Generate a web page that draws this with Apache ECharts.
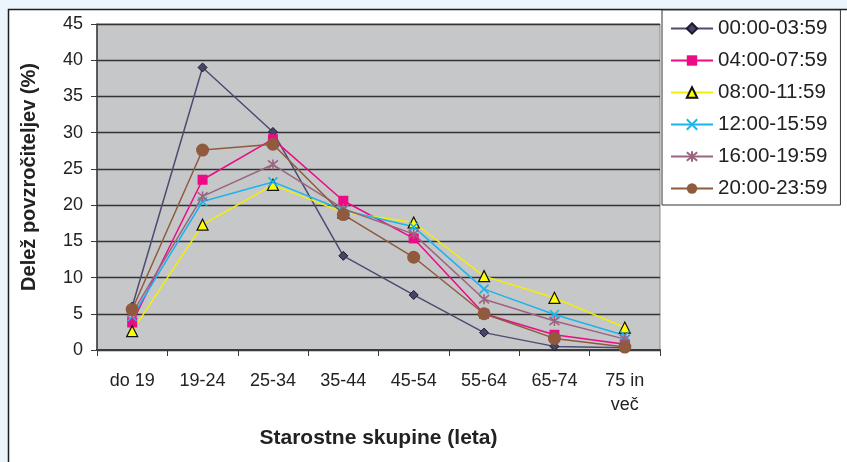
<!DOCTYPE html>
<html>
<head>
<meta charset="utf-8">
<script src="https://cdn.jsdelivr.net/npm/echarts@6/dist/echarts.min.js"></script>
<style>
html,body{margin:0;padding:0;background:#eaf5fc;}
#c{width:847px;height:462px;}
</style>
</head>
<body>
<div id="c"></div>
<script>
const categories = ['do 19','19-24','25-34','35-44','45-54','55-64','65-74','75 in\nveč'];
const seriesNames = ['00:00-03:59','04:00-07:59','08:00-11:59','12:00-15:59','16:00-19:59','20:00-23:59'];
const s0000 = [6.0, 39.0, 30.1, 13.0, 7.6, 2.4, 0.5, 0.3];
const s0400 = [3.8, 23.5, 29.1, 20.6, 15.4, 5.0, 2.1, 0.8];
const s0800 = [2.6, 17.3, 22.8, 19.0, 17.6, 10.2, 7.2, 3.1];
const s1200 = [4.6, 20.5, 23.2, 19.3, 17.0, 8.4, 4.9, 2.0];
const s1600 = [5.1, 21.2, 25.6, 19.5, 16.0, 7.0, 4.0, 1.5];
const s2000 = [5.6, 27.6, 28.4, 18.7, 12.8, 5.0, 1.6, 0.4];
const yTicks = {min: 0, max: 45, interval: 5};

const FONT = '"Liberation Sans", Arial, sans-serif';
const xPath = 'path://M0,0L10,10M10,0L0,10';
const starPath = 'path://M0,0L10,10M10,0L0,10M5,-1L5,11';

function mk(name, data, color, symbol, size, fill, border, bw) {
  return {
    name: name, type: 'line', data: data,
    symbol: symbol, symbolSize: size,
    lineStyle: {color: color, width: 1.5},
    itemStyle: {color: fill, borderColor: border, borderWidth: bw},
    emphasis: {disabled: true},
    z: 3
  };
}

const chart = echarts.init(document.getElementById('c'), null, {renderer: 'canvas'});
chart.setOption({
  animation: false,
  textStyle: {fontFamily: FONT},
  graphic: [{
    type: 'rect', silent: true, z: -10,
    shape: {x: 8.5, y: 9.5, width: 900, height: 600},
    style: {fill: '#ffffff', stroke: '#1e1e1e', lineWidth: 1.5}
  }],
  grid: {left: 97, top: 24, right: 187, bottom: 112, show: true,
         backgroundColor: '#c6c7c9', borderColor: '#8a8a8a', borderWidth: 1},
  legend: {
    orient: 'vertical', left: 662, top: 10,
    backgroundColor: '#ffffff', borderColor: '#333333', borderWidth: 1,
    padding: [8, 13, 6, 8], itemGap: 11, itemWidth: 42, itemHeight: 13,
    textStyle: {fontSize: 20.5, color: '#222', fontFamily: FONT, lineHeight: 20},
    data: seriesNames
  },
  xAxis: {
    type: 'category', data: categories, boundaryGap: true,
    axisLine: {lineStyle: {color: '#3a3a3a', width: 2}},
    axisTick: {show: true, length: 6, lineStyle: {color: '#3a3a3a', width: 1}},
    axisLabel: {fontSize: 18, color: '#222', margin: 19, lineHeight: 24, interval: 0},
    name: 'Starostne skupine (leta)', nameLocation: 'middle', nameGap: 78,
    nameTextStyle: {fontSize: 21, fontWeight: 'bold', color: '#222', fontFamily: FONT}
  },
  yAxis: {
    type: 'value', min: yTicks.min, max: yTicks.max, interval: yTicks.interval,
    axisLine: {show: true, lineStyle: {color: '#3a3a3a', width: 1.5}},
    axisTick: {show: true, length: 6, lineStyle: {color: '#3a3a3a'}},
    axisLabel: {fontSize: 18, color: '#222', margin: 14},
    splitLine: {lineStyle: {color: '#333333', width: 1.3}},
    name: 'Delež povzročiteljev (%)', nameLocation: 'middle', nameGap: 58,
    nameTextStyle: {fontSize: 20, fontWeight: 'bold', color: '#222', fontFamily: FONT, padding: [0, 0, 0, 20]}
  },
  series: [
    mk(seriesNames[0], s0000, '#4d4b72', 'diamond', 9, '#46446a', '#1a1a2a', 1),
    mk(seriesNames[1], s0400, '#ec0a86', 'rect', 10, '#ec0a86', '#ec0a86', 0),
    mk(seriesNames[2], s0800, '#f4ef00', 'triangle', 11, '#ffff00', '#111111', 1.2),
    mk(seriesNames[3], s1200, '#1db4ec', xPath, 9, '#1db4ec', '#1db4ec', 1.6),
    mk(seriesNames[4], s1600, '#9b6480', starPath, 10, '#9b6480', '#9b6480', 1.6),
    mk(seriesNames[5], s2000, '#8f5a3d', 'circle', 13, '#8f5a3d', '#8f5a3d', 0)
  ]
});
</script>
</body>
</html>
